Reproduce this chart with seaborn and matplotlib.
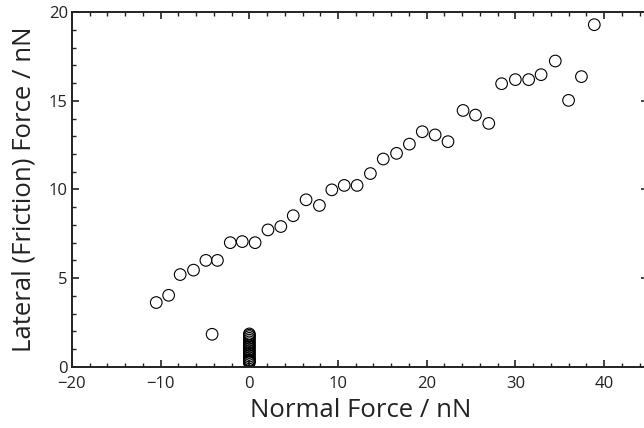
import numpy as np
import pandas as pd
import seaborn as sns
import matplotlib
matplotlib.use('Agg')
import matplotlib.pyplot as plt
from matplotlib.ticker import MultipleLocator

# main branch of the friction curve
normal_force = [-10.5, -9.1, -7.8, -6.3, -4.9, -3.6, -2.15, -0.8, 0.65, 2.1, 3.55,
                4.95, 6.4, 7.9, 9.3, 10.7, 12.15, 13.65, 15.1, 16.6, 18.05, 19.5,
                20.95, 22.4, 24.1, 25.5, 27.0, 28.45, 30.0, 31.5, 32.9, 34.5,
                36.0, 37.45, 38.9]
lateral_force = [3.62, 4.03, 5.2, 5.45, 6.0, 6.0, 7.0, 7.06, 7.0, 7.72, 7.91,
                 8.52, 9.42, 9.1, 9.98, 10.23, 10.23, 10.9, 11.72, 12.04, 12.56, 13.26,
                 13.08, 12.7, 14.46, 14.2, 13.73, 15.97, 16.2, 16.2, 16.48, 17.25,
                 15.03, 16.37, 19.3]

# points near zero load
low_normal = [-4.2, 0, 0, 0, 0, 0, 0, 0, 0, 0, 0, 0, 0, 0, 0, 0, 0, 0, 0, 0]
low_lateral = [1.83, 0.22, 0.3, 0.4, 0.5, 0.6, 0.7, 0.8, 0.9, 1.0, 1.1, 1.2,
               1.3, 1.4, 1.5, 1.6, 1.7, 1.78, 1.85, 0.35]

df = pd.DataFrame({'normal': normal_force + low_normal,
                   'lateral': lateral_force + low_lateral})

sns.set_style('white')
plt.rcParams['font.family'] = ['Open Sans', 'DejaVu Sans']

fig = plt.figure(figsize=(6.44, 4.28), dpi=100)
ax = fig.add_axes([0.1118, 0.1432, 0.895, 0.8281])

sns.scatterplot(data=df, x='normal', y='lateral', ax=ax, marker='o', s=70,
                facecolors='none', edgecolors='black', linewidth=0.8)

ax.set_xlim(-20, 45)
ax.set_ylim(0, 20)
ax.xaxis.set_major_locator(MultipleLocator(10))
ax.xaxis.set_minor_locator(MultipleLocator(2))
ax.yaxis.set_major_locator(MultipleLocator(5))
ax.yaxis.set_minor_locator(MultipleLocator(1))
ax.tick_params(which='both', direction='in', top=True, bottom=True, left=True,
               colors='#222222', labelcolor='#222222')
ax.tick_params(which='major', right=True, length=5, width=1.2, labelsize=12)
ax.tick_params(which='minor', right=False, length=3, width=1.0)
ax.tick_params(axis='x', which='major', pad=7)
ax.tick_params(axis='y', which='major', pad=3)
for sp in ax.spines.values():
    sp.set_linewidth(1.4)
    sp.set_color('#222222')

ax.set_xlabel('Normal Force / nN', fontsize=18.5, color='#222222', labelpad=4)
ax.set_ylabel('Lateral (Friction) Force / nN', fontsize=18.5, color='#222222', labelpad=9)

fig.savefig('out.png', dpi=100)
